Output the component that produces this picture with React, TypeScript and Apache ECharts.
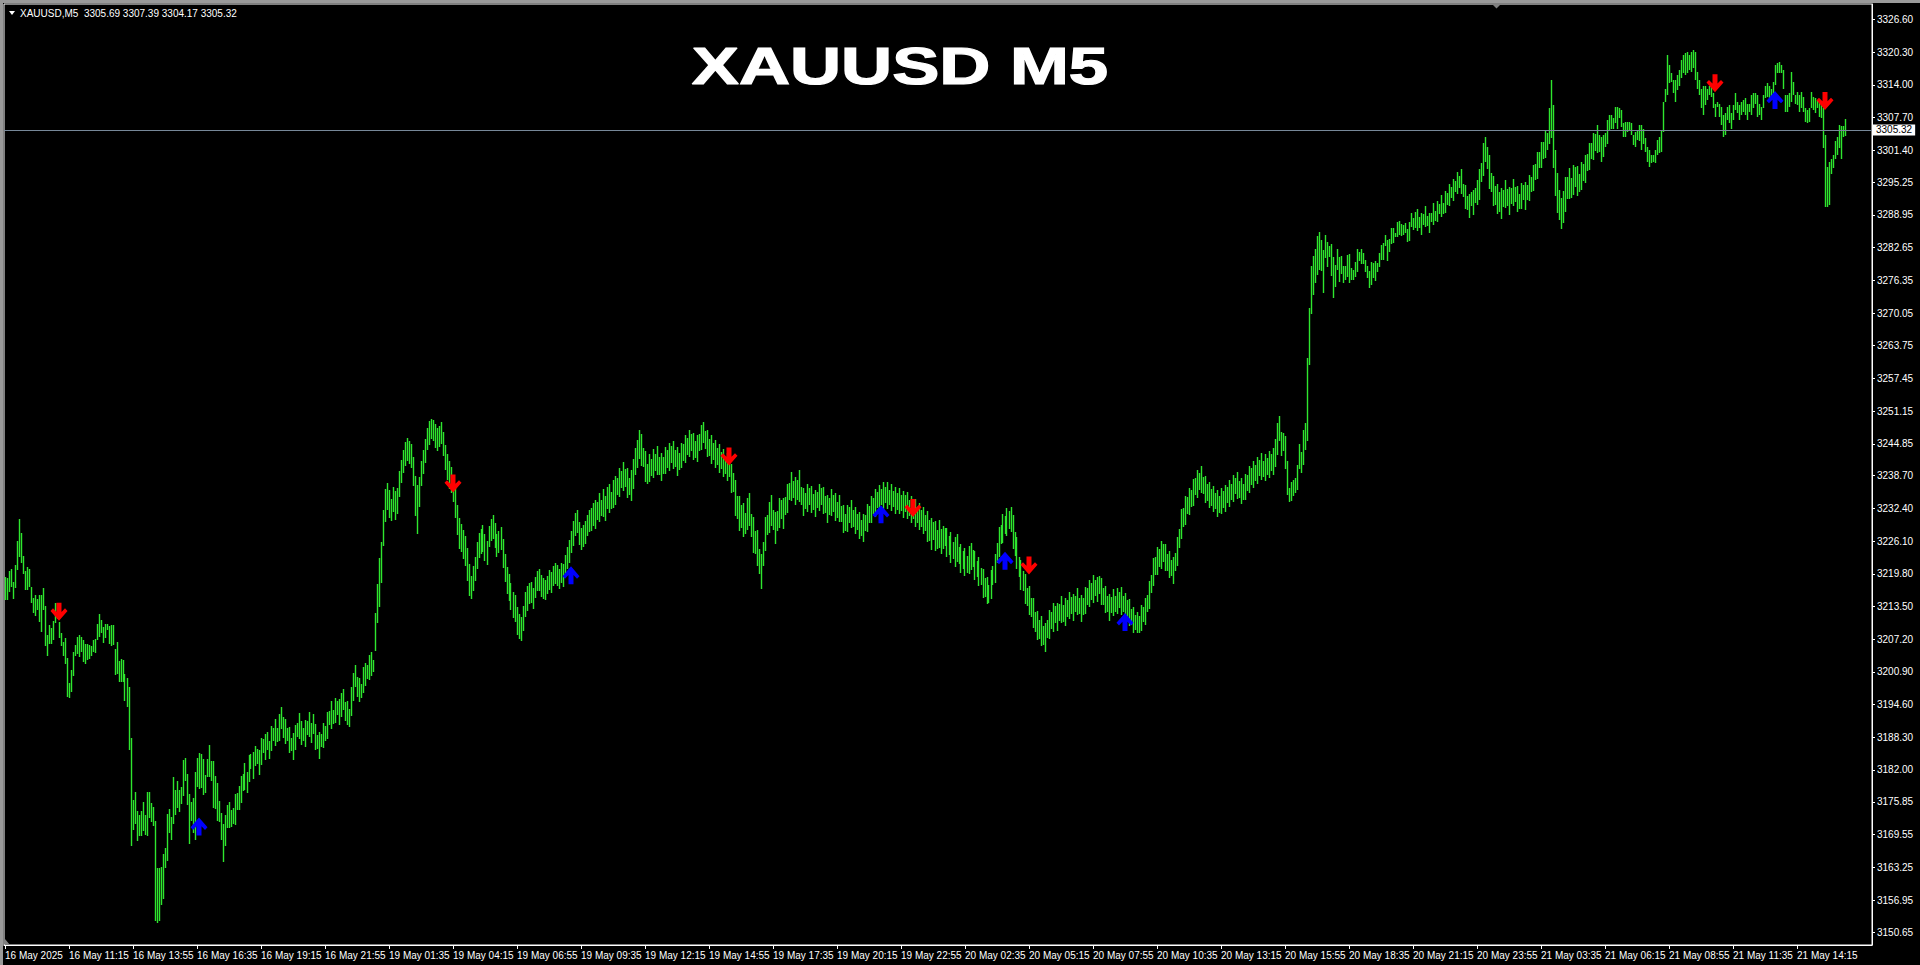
import React, { useEffect, useRef } from 'react';
import * as echarts from 'echarts';

// ---- data ----
const sessionDays = ['16 May', '19 May', '20 May', '21 May'];
const sessionStartMinutes = [515, 60, 60, 60];
const firstLabel = '16 May 2025';
const emptySlots = 13;

// [high, low] per 5-minute bar
const day16: number[][] = [
[3219.2,3214.8],[3219.0,3214.8],[3220.3,3216.2],[3220.7,3217.3],[3218.3,3214.9],[3221.5,3217.0],[3226.1,3220.5],[3230.4,3223.1],[3227.7,3221.9],[3223.2,3219.8],
[3220.4,3216.7],[3221.2,3216.7],[3220.7,3217.2],[3217.2,3214.1],[3215.1,3212.3],[3215.8,3211.7],[3214.9,3212.8],[3215.7,3210.6],[3215.7,3208.6],[3217.0,3212.8],
[3213.6,3205.9],[3208.1,3204.0],[3209.9,3206.2],[3209.4,3206.2],[3210.7,3207.0],[3214.1,3210.4],[3214.1,3211.0],[3210.6,3207.4],[3208.4,3205.8],[3206.7,3204.0],
[3207.5,3202.5],[3203.6,3196.0],[3198.7,3195.8],[3201.2,3197.0],[3204.7,3200.2],[3206.1,3204.0],[3207.6,3204.3],[3208.0,3203.8],[3207.7,3204.8],[3207.0,3202.9],
[3206.2,3202.5],[3206.2,3203.2],[3206.1,3203.3],[3205.8,3204.0],[3207.0,3204.8],[3207.2,3204.6],[3210.1,3207.0],[3212.0,3207.7],[3210.9,3208.3],[3209.5,3206.4],
[3210.1,3207.4],[3210.1,3209.0],[3209.7,3206.3],[3209.9,3205.9],[3209.9,3206.1],[3205.3,3200.3],[3206.6,3200.4],[3203.0,3199.0],[3203.4,3198.9],[3203.2,3199.0],
[3200.5,3195.2],[3199.8,3194.2],[3198.0,3185.9],[3188.1,3167.4],[3176.2,3170.4],[3177.7,3171.6],[3174.1,3168.4],[3173.3,3169.2],[3174.1,3169.2],[3175.8,3170.3],
[3173.3,3169.5],[3177.7,3169.2],[3177.7,3172.7],[3175.6,3171.9],[3174.8,3171.2],[3172.2,3153.0],[3163.1,3152.6],[3163.2,3153.0],[3163.4,3155.9],[3165.8,3157.1],
[3166.9,3163.2],[3173.5,3164.5],[3174.5,3169.9],[3173.0,3168.5],[3180.6,3171.6],[3178.2,3173.3],[3179.9,3174.7],[3178.2,3174.0],[3178.7,3175.5],[3183.9,3176.9],
[3184.4,3179.8],[3181.2,3175.3],[3177.4,3167.7],[3175.9,3172.2],[3176.7,3169.8],[3181.7,3168.6],[3184.4,3178.7],[3185.3,3178.3],[3185.0,3178.5],[3184.1,3177.2],
[3181.0,3177.5],[3184.2,3180.7],[3186.8,3180.7],[3183.7,3179.9],[3183.7,3174.7],[3180.9,3174.5],[3179.4,3172.2],[3176.0,3171.9],[3173.7,3168.6],[3171.6,3164.3],
[3173.3,3167.4],[3175.3,3170.8],[3175.8,3170.8],[3174.3,3171.1],[3174.7,3171.6],[3177.3,3171.4],[3177.5,3174.3],[3178.9,3174.3],[3180.9,3175.6],[3181.2,3177.9],
[3183.4,3178.2],[3181.6,3177.5],[3184.8,3179.6],[3185.0,3182.1],[3185.4,3180.3],[3186.6,3182.8],[3186.0,3183.2],[3185.8,3181.1],[3188.1,3183.0],[3188.0,3185.3],
[3188.9,3183.9],[3189.4,3185.8],[3187.6,3184.1],[3190.5,3185.7],[3190.1,3187.5],[3191.8,3186.6],[3190.0,3187.4],[3192.7,3187.6],[3194.1,3189.9],[3192.2,3188.2],
[3191.9,3187.0],[3190.0,3187.6],[3190.3,3185.2],[3188.2,3185.6],[3189.1,3184.0],[3190.6,3185.8],[3191.0,3188.3],[3192.9,3187.9],[3191.5,3186.8],[3190.1,3187.6],
[3191.6,3186.5],[3191.4,3188.7],[3193.1,3188.3],[3191.0,3187.2],[3192.8,3188.9],[3190.9,3185.8],[3188.7,3186.1],[3189.3,3184.2],[3189.0,3186.4],[3191.1,3186.2],
[3190.4,3187.6],[3193.1,3188.0],[3193.4,3190.7],[3195.3,3189.9],[3193.5,3190.9],[3195.9,3191.1],[3195.2,3192.5],[3195.6,3190.6],[3196.8,3192.2],[3197.6,3193.6],
[3195.1,3191.4],[3195.3,3190.6],[3193.8,3190.2],[3197.9,3192.4],[3200.7,3195.2],[3202.3,3197.9],[3200.0,3196.0],[3199.8,3195.1],[3198.6,3195.8],[3201.9,3196.9],
[3202.6,3198.1],[3202.3,3199.5],[3204.2,3199.4],[3204.8,3200.2],[3203.1,3200.9]
];

const day19: number[][] = [
[3212.2,3205.0],[3217.9,3210.3],[3222.8,3213.4],[3226.0,3218.0],[3232.1,3225.1],[3236.2,3229.8],[3237.3,3232.1],[3236.0,3230.6],[3234.2,3229.9],[3236.5,3231.8],
[3235.7,3230.2],[3236.4,3231.3],[3239.6,3234.6],[3241.8,3237.3],[3243.7,3239.2],[3245.2,3240.6],[3246.0,3241.5],[3245.4,3240.9],[3244.8,3240.1],[3242.3,3236.7],
[3238.6,3230.9],[3236.9,3227.4],[3238.5,3232.6],[3241.6,3236.8],[3243.7,3239.1],[3245.8,3241.2],[3247.9,3243.6],[3249.2,3244.7],[3249.6,3245.8],[3249.4,3245.3],
[3248.6,3244.1],[3247.8,3243.5],[3248.3,3244.2],[3249.0,3244.8],[3247.1,3242.5],[3244.6,3239.8],[3242.8,3237.9],[3241.5,3236.2],[3240.3,3235.4],[3238.9,3233.6],
[3236.4,3230.5],[3233.0,3227.2],[3230.5,3224.6],[3229.4,3224.0],[3228.2,3222.6],[3227.0,3221.3],[3224.8,3218.5],[3221.6,3215.6],[3219.3,3214.9],[3221.4,3216.5],
[3223.1,3218.4],[3226.0,3220.8],[3227.6,3222.9],[3228.5,3223.7],[3229.3,3224.0],[3227.4,3222.3],[3226.2,3221.5],[3229.1,3225.0],[3230.4,3226.2],[3231.2,3226.5],
[3229.6,3224.8],[3227.5,3223.1],[3228.1,3223.9],[3228.9,3224.3],[3226.5,3221.0],[3223.6,3218.2],[3221.2,3215.9],[3219.8,3214.5],[3218.0,3212.8],[3216.3,3211.2],
[3215.7,3210.6],[3213.4,3208.0],[3212.1,3207.2],[3211.5,3206.9],[3213.6,3208.7],[3216.2,3211.5],[3217.4,3212.6],[3218.0,3213.9],[3218.3,3214.2],[3217.1,3213.0],
[3219.2,3215.1],[3220.3,3216.4],[3220.7,3216.5],[3219.6,3215.4],[3219.0,3214.9],[3218.6,3214.8],[3219.4,3215.9],[3220.5,3216.6],[3220.2,3216.1],[3221.3,3217.4],
[3221.8,3217.9],[3221.5,3217.4],[3220.8,3216.9],[3221.9,3218.0],[3221.6,3217.3],[3223.4,3219.2],[3225.0,3220.8],[3226.3,3221.9],[3228.1,3223.9],[3229.9,3225.2],
[3231.5,3227.0],[3232.0,3227.6],[3229.8,3225.4],[3228.7,3224.3],[3229.2,3225.0],[3230.0,3225.6],[3231.2,3227.0],[3232.0,3227.8],[3232.4,3228.0],[3233.5,3229.1],
[3234.0,3228.5],[3233.6,3230.1],[3235.4,3229.8],[3234.1,3231.0],[3236.2,3230.7],[3234.8,3229.9],[3236.5,3232.3],[3237.1,3231.5],[3235.6,3232.2],[3237.8,3232.4],
[3238.6,3233.1],[3238.2,3235.0],[3240.1,3234.6],[3239.6,3236.3],[3241.3,3235.7],[3240.0,3236.6],[3240.2,3234.4],[3238.3,3234.9],[3239.8,3233.9],[3242.0,3236.2],
[3244.1,3238.8],[3245.6,3240.1],[3247.5,3241.9],[3246.8,3240.6],[3244.1,3240.3],[3243.5,3237.4],[3240.9,3237.2],[3242.9,3237.5],[3242.0,3238.6],[3243.8,3238.3],
[3242.9,3239.7],[3244.5,3238.9],[3242.4,3238.9],[3243.0,3237.6],[3242.3,3239.1],[3244.2,3239.0],[3243.6,3240.2],[3245.0,3239.6],[3244.5,3241.1],[3245.3,3240.0],
[3243.6,3240.3],[3244.2,3238.7],[3243.1,3239.8],[3245.1,3240.1],[3244.8,3241.5],[3246.6,3241.2],[3246.0,3242.6],[3247.5,3242.3],[3246.8,3243.4],[3247.0,3241.8],
[3245.3,3242.1],[3246.5,3241.3],[3246.7,3243.5],[3248.5,3243.6],[3249.0,3245.0],[3247.3,3243.9],[3247.6,3242.4],[3245.8,3242.5],[3246.5,3241.0],[3245.0,3241.7],
[3245.6,3240.2],[3244.0,3240.8],[3244.8,3239.3],[3243.2,3239.9],[3243.9,3238.4],[3242.4,3239.0],[3243.1,3237.7],[3242.3,3238.4],[3241.0,3235.4],[3239.2,3235.6],
[3237.9,3231.0],[3234.8,3230.3],[3234.7,3228.0],[3233.0,3228.7],[3233.4,3226.8],[3231.6,3227.4],[3234.4,3228.3],[3235.3,3229.1],[3231.4,3226.9],[3230.8,3223.9],
[3228.1,3223.6],[3228.3,3221.4],[3224.5,3219.8],[3223.6,3216.9],[3226.0,3221.3],[3230.7,3224.1],[3231.1,3227.3],[3233.6,3227.6],[3234.9,3229.1],[3232.0,3228.2],
[3231.7,3225.6],[3231.9,3228.1],[3234.5,3228.7],[3234.0,3230.4],[3234.4,3228.4],[3234.6,3231.1],[3237.2,3231.5],[3237.3,3234.0],[3239.5,3233.9],[3237.7,3234.4],
[3238.5,3233.0],[3237.9,3234.1],[3239.8,3233.6],[3236.5,3233.0],[3236.4,3230.9],[3235.4,3232.3],[3237.1,3231.8],[3236.4,3233.1],[3236.8,3231.5],[3235.1,3232.0],
[3236.0,3230.7],[3235.6,3232.4],[3237.1,3231.9],[3236.3,3233.1],[3236.6,3231.3],[3234.7,3231.5],[3234.9,3229.6],[3234.4,3231.2],[3236.2,3230.9],[3234.9,3231.8],
[3235.3,3230.0],[3233.6,3230.5],[3234.9,3229.7],[3232.9,3229.8],[3233.0,3227.7],[3231.3,3228.1],[3233.1,3227.8],[3232.6,3229.5],[3234.0,3228.7],[3232.1,3228.9],
[3232.6,3227.4],[3231.3,3228.2],[3231.8,3226.5],[3230.1,3227.0],[3231.4,3225.9],[3231.2,3228.0],[3233.2,3227.8],[3232.8,3229.5],[3234.8,3229.5],[3234.5,3231.3],
[3236.2,3230.8],[3235.6,3232.4],[3237.0,3231.8],[3236.1,3233.0],[3237.5,3232.3],[3236.5,3233.4],[3237.4,3232.3],[3236.0,3233.1],[3237.2,3231.9],[3235.8,3232.7],
[3236.6,3231.4],[3235.3,3232.1],[3236.4,3231.3],[3235.0,3231.9],[3235.8,3230.5],[3234.9,3231.7],[3235.6,3230.3],[3234.1,3230.9],[3234.8,3229.6],[3233.5,3230.4],
[3234.2,3228.9],[3232.7,3229.5],[3233.5,3228.3],[3232.0,3228.9],[3232.6,3227.4],[3231.1,3228.0]
];

const day20: number[][] = [
[3231.9,3226.0],[3230.2,3226.1],[3230.6,3224.4],[3229.7,3226.3],[3230.0,3224.1],[3228.2,3224.6],[3230.1,3224.7],[3228.4,3223.6],[3229.0,3224.5],[3228.6,3225.2],
[3228.7,3223.0],[3227.0,3223.5],[3227.8,3221.9],[3226.0,3222.6],[3226.9,3221.2],[3227.5,3222.0],[3225.0,3221.6],[3225.6,3219.9],[3224.2,3220.7],[3224.7,3219.3],
[3223.3,3220.0],[3225.2,3219.8],[3225.8,3220.5],[3224.4,3221.1],[3224.2,3218.7],[3222.3,3219.1],[3223.0,3217.5],[3221.0,3217.6],[3220.8,3215.2],[3219.0,3215.4],
[3219.2,3214.0],[3217.7,3214.1],[3220.5,3215.0],[3221.3,3217.6],[3223.6,3218.1],[3225.7,3221.8],[3228.8,3223.0],[3229.2,3225.5],[3231.4,3225.7],[3231.0,3227.5],
[3232.5,3227.0],[3231.9,3228.4],[3232.6,3227.8],[3231.2,3224.6],[3227.9,3223.3],[3226.8,3220.8],[3223.1,3219.2],[3222.5,3216.7],[3220.3,3216.5],[3219.8,3214.0],
[3217.1,3213.6],[3217.5,3211.8],[3215.2,3211.5],[3215.2,3209.3],[3212.4,3208.6],[3212.7,3207.0],[3210.9,3207.3],[3211.6,3205.8],[3209.8,3206.1],[3210.4,3204.8],
[3210.9,3207.4],[3212.9,3207.2],[3212.4,3209.1],[3214.2,3208.6],[3213.6,3210.4],[3214.1,3208.8],[3214.0,3210.7],[3215.6,3210.3],[3213.8,3210.6],[3215.1,3209.8],
[3214.7,3211.5],[3216.2,3211.0],[3215.3,3212.1],[3215.9,3210.7],[3215.6,3212.5],[3217.0,3211.8],[3215.2,3212.0],[3215.8,3210.6],[3215.1,3211.9],[3217.2,3212.0],
[3217.0,3213.8],[3218.7,3213.5],[3218.0,3214.8],[3219.5,3214.2],[3218.7,3215.6],[3219.2,3214.3],[3219.3,3215.9],[3218.9,3213.7],[3217.0,3213.8],[3217.4,3212.2],
[3215.6,3212.4],[3216.0,3210.8],[3215.4,3212.3],[3216.8,3211.7],[3215.5,3212.5],[3217.0,3212.0],[3216.3,3213.2],[3217.2,3211.9],[3215.6,3212.5],[3216.1,3210.9],
[3214.7,3211.5],[3214.9,3209.7],[3213.1,3210.0],[3213.5,3208.4],[3211.9,3208.9],[3212.4,3208.3],[3211.6,3208.3],[3213.7,3208.7],[3213.5,3210.6],[3215.1,3210.0],
[3215.7,3212.5],[3218.4,3213.1],[3219.6,3216.1],[3222.9,3217.4],[3223.0,3219.5],[3225.0,3219.6],[3224.5,3221.1],[3226.2,3220.7],[3225.5,3222.1],[3225.6,3220.3],
[3223.7,3220.4],[3224.1,3218.9],[3222.5,3219.3],[3223.0,3217.8],[3223.8,3220.4],[3226.9,3221.3],[3228.5,3224.8],[3232.3,3226.6],[3232.5,3228.9],[3234.7,3229.3],
[3234.6,3231.3],[3236.4,3231.1],[3235.9,3232.6],[3238.1,3232.8],[3238.3,3235.0],[3239.8,3234.5],[3239.3,3235.9],[3240.5,3235.3],[3238.4,3235.2],[3238.6,3233.4],
[3237.1,3233.9],[3237.5,3232.4],[3236.1,3232.9],[3236.8,3231.7],[3235.3,3232.2],[3235.9,3230.8],[3234.7,3231.6],[3236.4,3231.3],[3235.7,3232.5],[3237.0,3231.8],
[3236.5,3233.4],[3237.9,3232.7],[3237.2,3234.0],[3238.8,3233.6],[3238.2,3235.1],[3239.4,3234.3],[3237.7,3234.5],[3238.3,3233.2],[3237.1,3234.0],[3239.0,3234.0],
[3238.9,3235.7],[3240.6,3235.4],[3240.1,3236.9],[3241.5,3236.4],[3240.8,3237.6],[3242.3,3237.2],[3241.7,3238.6],[3243.0,3237.8],[3241.6,3238.5],[3242.8,3237.7],
[3242.1,3238.9],[3243.4,3238.3],[3242.9,3239.7],[3244.1,3238.8],[3245.7,3240.3],[3248.9,3242.7],[3250.3,3245.4],
[3247.2,3242.5],[3247.0,3243.5],[3246.4,3239.9],[3241.5,3235.0],[3236.3,3233.6],[3237.4,3233.8],[3237.9,3234.7],[3238.2,3235.3],[3240.8,3236.0],[3244.8,3239.9],
[3243.3,3239.2],[3247.5,3240.8],[3248.8,3243.7],[3261.3,3245.3],[3271.0,3260.0],[3279.1,3269.9],[3281.0,3273.5],[3282.3,3275.8],[3284.9,3277.4],[3285.7,3278.3],
[3284.2,3278.2],[3282.2,3274.0],[3285.1,3280.6],[3283.8,3279.0],[3283.0,3280.9],[3283.4,3277.1],[3280.8,3273.0],[3279.3,3275.0],[3282.3,3278.3],[3280.9,3276.1],
[3281.0,3277.6],[3279.1,3275.9],[3279.1,3276.4],[3281.2,3276.9],[3281.4,3275.8],[3278.7,3276.4],[3278.3,3276.5],[3279.9,3276.9],[3282.3,3278.0],[3281.9,3280.0],
[3282.3,3279.5],[3281.7,3279.5],[3280.3,3278.0],[3279.1,3276.7],[3278.2,3274.8],[3279.8,3275.5],[3279.6,3276.7],[3280.1,3276.3],[3279.6,3278.0],[3281.6,3279.0],
[3283.2,3280.3],[3283.6,3280.3],[3285.1,3283.0],[3284.2,3280.0],[3284.4,3281.9],[3286.4,3283.4],[3286.4,3283.5],[3285.5,3284.6],[3287.5,3284.6],[3287.7,3285.1],
[3287.2,3284.9],[3287.0,3285.1],[3287.3,3285.5],[3286.2,3283.8],[3287.5,3284.0],[3289.4,3286.6],[3288.3,3286.0],[3289.6,3286.5],
[3290.0,3285.8],[3288.5,3286.4],[3289.3,3285.0],[3289.2,3287.1],[3290.7,3286.6],[3288.8,3286.9],[3289.4,3285.4],[3289.4,3287.5],[3291.2,3287.0],[3289.7,3287.8],
[3291.6,3287.6],[3291.1,3289.1],[3292.8,3288.5],[3291.3,3289.2],[3293.5,3289.3],[3293.1,3290.9],[3295.0,3290.6],[3294.4,3292.2],[3295.9,3291.7],[3295.5,3293.3],
[3297.2,3292.9],[3296.4,3294.1],[3297.8,3292.9],[3294.9,3292.4],[3294.7,3290.1],[3292.5,3289.9],[3293.0,3288.4],[3293.3,3290.7],[3293.8,3289.0],[3294.1,3291.3],
[3295.6,3290.8]
];

const day21: number[][] = [
[3297.8,3291.9],[3299.0,3295.3],[3302.9,3296.4],[3304.0,3299.1],[3302.1,3297.8],[3300.4,3294.0],[3297.1,3293.3],[3296.5,3290.7],[3294.6,3290.9],[3294.9,3289.1],
[3293.3,3289.5],[3294.1,3288.1],[3293.7,3290.4],[3295.6,3290.2],[3293.9,3290.6],[3294.3,3289.0],[3294.1,3291.1],[3295.9,3290.7],[3294.3,3291.4],[3294.6,3289.6],
[3292.9,3290.1],[3295.1,3290.0],[3294.7,3291.8],[3295.2,3289.9],[3294.8,3291.9],[3296.6,3291.6],[3296.3,3293.3],[3298.6,3293.5],[3298.8,3295.7],[3301.1,3295.8],
[3301.1,3298.0],[3303.0,3297.9],[3303.0,3299.8],[3305.2,3299.9],[3304.8,3301.5],[3309.5,3302.6],[3315.0,3303.8],[3310.2,3298.0],[3301.4,3292.6],[3297.0,3289.4],
[3293.8,3287.9],[3292.2,3286.3],[3293.5,3287.4],[3296.2,3289.6],[3296.2,3292.1],[3298.0,3292.0],[3296.1,3292.3],[3298.5,3292.7],[3298.1,3294.4],[3298.3,3292.6],
[3296.9,3293.3],[3299.1,3293.7],[3298.8,3295.5],[3300.5,3295.1],[3300.7,3297.4],[3302.9,3297.6],[3302.9,3299.7],[3304.8,3299.5],[3304.5,3301.3],[3306.2,3300.9],
[3304.3,3301.1],
[3304.0,3299.2],[3304.3,3300.2],[3304.7,3302.1],[3307.2,3302.7],[3308.2,3305.3],[3308.2,3305.6],[3307.6,3305.6],[3309.8,3306.6],[3309.8,3305.6],[3309.5,3307.6],
[3309.2,3305.9],[3306.6,3304.0],[3306.9,3304.0],[3306.9,3305.0],[3306.9,3305.3],[3306.6,3304.3],[3304.3,3302.4],[3305.0,3302.1],[3305.3,3303.4],[3306.3,3303.1],
[3306.3,3301.5],[3305.6,3302.7],[3303.7,3301.1],[3302.1,3299.2],[3301.5,3298.2],[3300.5,3298.9],[3300.5,3299.2],[3301.5,3298.9],[3303.4,3300.5],[3304.0,3300.8],
[3305.3,3301.1],[3310.8,3305.0],[3313.3,3310.8],[3319.8,3312.0],[3317.8,3314.3],[3316.2,3314.6],[3314.9,3312.4],[3314.9,3310.8],[3315.9,3313.0],[3316.9,3313.7],
[3318.8,3315.3],[3319.8,3316.2],[3320.1,3315.9],[3320.4,3316.2],[3319.8,3316.9],[3320.4,3316.5],[3320.7,3317.2],[3320.4,3314.9],[3316.5,3313.3],[3314.9,3312.0],
[3313.3,3309.5],[3313.7,3308.2],[3313.7,3310.1],[3313.3,3311.1],[3313.7,3312.0],[3313.7,3311.7],[3312.4,3309.5],[3310.4,3307.9],[3310.8,3309.8],[3310.4,3307.9],
[3309.8,3306.3],[3308.2,3304.0],[3308.5,3304.3],[3309.8,3307.2],[3310.1,3306.6],[3308.5,3305.6],[3310.1,3307.2],[3312.4,3309.2],[3310.8,3308.5],[3310.1,3307.2],
[3310.8,3308.2],[3311.1,3308.8],[3311.4,3308.2],[3310.4,3307.2],[3310.4,3308.8],[3312.0,3308.2],[3312.4,3309.5],[3312.4,3310.4],[3312.0,3307.9],[3310.4,3308.2],
[3309.8,3307.2],[3312.0,3309.5],[3313.7,3311.4],[3314.3,3311.7],[3313.7,3311.4],[3313.3,3311.1],[3314.6,3312.0],[3317.8,3314.0],[3318.2,3316.2],[3318.5,3316.2],
[3317.8,3316.2],[3316.9,3313.3],[3312.0,3308.8],[3312.0,3308.8],[3312.4,3309.8],[3316.5,3310.8],[3314.6,3312.0],[3312.0,3310.4],[3312.7,3310.1],[3312.0,3308.8],
[3312.7,3309.5],[3311.7,3308.8],[3309.5,3306.9],[3309.2,3306.6],[3309.5,3306.9],[3312.7,3309.5],[3311.7,3309.2],[3311.4,3308.5],[3311.1,3309.5],[3310.8,3307.9],
[3310.1,3307.6],[3309.5,3301.8],[3304.3,3290.5],[3298.2,3290.5],[3299.2,3290.9],[3299.8,3296.9],[3300.5,3297.9],[3303.1,3299.8],[3304.0,3300.5],[3306.3,3301.8],
[3306.0,3299.8],[3306.0,3304.0],[3307.39,3304.17]
];

const sellBars = [27, 224, 362, 454, 512, 855, 910];
const sellPrices = [3212.5, 3237.2, 3242.4, 3232.5, 3221.4, 3314.3, 3310.9];
const buyBars = [97, 283, 438, 500, 560, 885];
const buyPrices = [3171.1, 3219.5, 3231.3, 3222.3, 3210.5, 3311.1];

const yTickLabels = [3326.60, 3320.30, 3314.00, 3307.70, 3301.40, 3295.25, 3288.95, 3282.65, 3276.35, 3270.05,
  3263.75, 3257.45, 3251.15, 3244.85, 3238.70, 3232.40, 3226.10, 3219.80, 3213.50, 3207.20, 3200.90,
  3194.60, 3188.30, 3182.00, 3175.85, 3169.55, 3163.25, 3156.95, 3150.65];
const yMin = 3148.28;
const yMax = 3329.59;
const currentPrice = 3305.32;
const headerText = 'XAUUSD,M5  3305.69 3307.39 3304.17 3305.32';
const titleText = 'XAUUSD M5';

const DOWN_ARROW = 'path://M6 0L11 0L11 9L14.5 5.5L17 8L8.5 17.5L0 8L2.5 5.5L6 9Z';
const UP_ARROW = 'path://M6 18L11 18L11 9L14.5 12.5L17 10L8.5 0.5L0 10L2.5 12.5L6 9Z';

const FONT = '"Liberation Sans", Arial, sans-serif';
const BAR_COLOR = '#2ee62e';

export default function App() {
  const ref = useRef<HTMLDivElement>(null);
  useEffect(() => {
    const el = ref.current;
    if (!el) return;
    const chart = echarts.init(el, null, { renderer: 'svg' });

    const categories: string[] = [];
    const barData: number[][] = [];
    [day16, day19, day20, day21].forEach((bars, d) => {
      bars.forEach((b, k) => {
        const m = sessionStartMinutes[d] + 5 * k;
        const hh = String(Math.floor(m / 60)).padStart(2, '0');
        const mm = String(m % 60).padStart(2, '0');
        barData.push([categories.length, b[0], b[1]]);
        categories.push(`${sessionDays[d]} ${hh}:${mm}`);
      });
    });
    categories[0] = firstLabel;
    for (let k = 0; k < emptySlots; k++) categories.push('');

    const option: any = {
      animation: false,
      backgroundColor: '#000000',
      grid: {
        left: 4, top: 4, width: 1868, height: 941,
        show: true, borderColor: '#ffffff', borderWidth: 1,
        containLabel: false, outerBoundsMode: 'none',
      },
      xAxis: {
        type: 'category',
        data: categories,
        boundaryGap: true,
        axisLine: { show: true, lineStyle: { color: '#ffffff', width: 1 } },
        axisTick: { show: true, interval: 31, alignWithLabel: true, length: 4, lineStyle: { color: '#ffffff' } },
        axisLabel: {
          interval: 31, color: '#ffffff', fontSize: 10, fontFamily: FONT,
          align: 'left', margin: 5, hideOverlap: false, showMinLabel: true, showMaxLabel: false,
        },
        splitLine: { show: false },
      },
      yAxis: {
        type: 'value',
        position: 'right',
        min: yMin, max: yMax,
        axisLine: { show: true, lineStyle: { color: '#ffffff', width: 1 } },
        axisTick: { show: true, length: 3, customValues: yTickLabels, lineStyle: { color: '#ffffff' } },
        axisLabel: {
          customValues: yTickLabels, color: '#ffffff', fontSize: 10, fontFamily: FONT, margin: 5,
          formatter: (v: number) => v.toFixed(2),
        },
        splitLine: { show: false },
      },
      series: [
        {
          type: 'custom',
          name: 'bars',
          data: barData,
          encode: { x: 0, y: [1, 2] },
          renderItem: (params: any, api: any) => {
            const i = api.value(0);
            const top = api.coord([i, api.value(1)]);
            const bot = api.coord([i, api.value(2)]);
            const px = Math.floor(top[0]) + 0.5;
            return {
              type: 'line',
              shape: { x1: px, y1: Math.round(top[1]), x2: px, y2: Math.max(Math.round(bot[1]), Math.round(top[1]) + 1) },
              style: { stroke: BAR_COLOR, lineWidth: 1.4 },
            };
          },
          silent: true,
          z: 2,
        },
        {
          type: 'scatter',
          name: 'sell',
          data: sellBars.map((b, k) => [b, sellPrices[k]]),
          symbol: DOWN_ARROW,
          symbolSize: [17, 18],
          itemStyle: { color: '#ff0000', opacity: 1 },
          silent: true,
          z: 4,
          markLine: {
            silent: true,
            symbol: 'none',
            lineStyle: { color: '#778899', width: 1, type: 'solid' },
            label: {
              show: true, position: 'end', formatter: currentPrice.toFixed(2),
              backgroundColor: '#ffffff', color: '#000000', fontSize: 10, fontFamily: FONT,
              padding: [1, 3, 0, 3], distance: 1,
            },
            data: [{ yAxis: currentPrice }],
            z: 3,
          },
        },
        {
          type: 'scatter',
          name: 'buy',
          data: buyBars.map((b, k) => [b, buyPrices[k]]),
          symbol: UP_ARROW,
          symbolSize: [17, 18],
          itemStyle: { color: '#0000ff', opacity: 1 },
          silent: true,
          z: 4,
        },
      ],
      graphic: [
        { type: 'rect', shape: { x: 0, y: 0, width: 3, height: 965 }, style: { fill: '#9a9a9a' }, silent: true },
        { type: 'rect', shape: { x: 0, y: 0, width: 1920, height: 3 }, style: { fill: '#9a9a9a' }, silent: true },
        { type: 'polygon', shape: { points: [[9, 11], [15, 11], [12, 15]] }, style: { fill: '#ffffff' }, silent: true },
        {
          type: 'text', x: 20, y: 13, silent: true,
          style: { text: headerText, fill: '#ffffff', font: `10px ${FONT}`, textAlign: 'left', textVerticalAlign: 'middle', align: 'left', verticalAlign: 'middle' },
        },
        { type: 'polygon', shape: { points: [[1492, 4], [1501, 4], [1496.5, 8.5]] }, style: { fill: '#808080' }, silent: true },
        { type: 'polygon', shape: { points: [[5, 939], [5, 945], [10, 945]] }, style: { fill: '#808080' }, silent: true },
        {
          type: 'text', x: 900, y: 66, scaleX: 1.36, silent: true, z: 10,
          style: {
            text: titleText, fill: '#ffffff', stroke: '#ffffff', lineWidth: 1.2, font: `bold 52px ${FONT}`,
            textAlign: 'center', textVerticalAlign: 'middle', align: 'center', verticalAlign: 'middle',
          },
        },
      ],
    };
    chart.setOption(option);
    return () => chart.dispose();
  }, []);
  return (
    <div
      ref={ref}
      style={{ position: 'fixed', left: 0, top: 0, width: 1920, height: 965, background: '#000' }}
    />
  );
}
